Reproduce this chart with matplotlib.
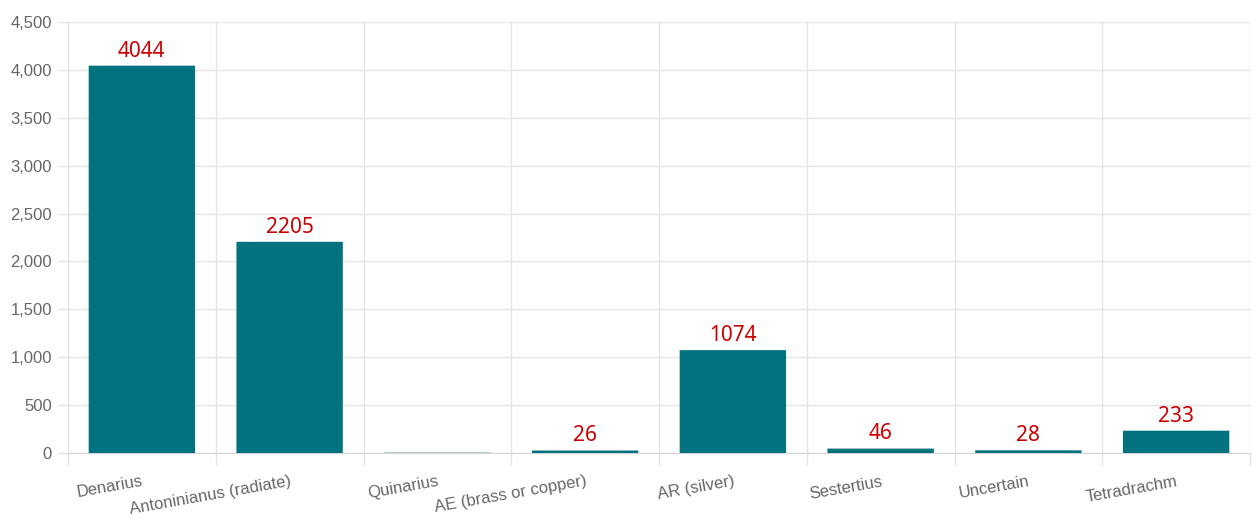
import matplotlib
matplotlib.use("Agg")
import matplotlib.pyplot as plt
from matplotlib.ticker import FuncFormatter, MultipleLocator, FixedLocator
import numpy as np

categories = ["Denarius", "Antoninianus (radiate)", "Quinarius", "AE (brass or copper)",
              "AR (silver)", "Sestertius", "Uncertain", "Tetradrachm"]
values = [4044, 2205, 3, 26, 1074, 46, 28, 233]
value_labels = ["4044", "2205", "", "26", "1074", "46", "28", "233"]

BAR = "#02727f"
GRID = "#e4e4e4"
TXT = "#666666"

fig = plt.figure(figsize=(12.52, 5.19), dpi=100)
ax = fig.add_axes([68/1252, 66/519, (1250-68)/1252, (453-22)/519])

x = np.arange(len(categories))
bars = ax.bar(x, values, width=0.72, color=BAR, zorder=3)
for b in bars:
    b.set_snap(False)

for xi, v, lab in zip(x, values, value_labels):
    if lab:
        ax.annotate(lab, (xi, v), xytext=(0, 3), textcoords="offset points",
                    ha="center", va="bottom", color="#cc0000", fontsize=15,
                    family="Noto Sans", zorder=4)

ax.set_xlim(-0.5, len(categories) - 0.5)
ax.set_ylim(0, 4500)
ax.yaxis.set_major_locator(MultipleLocator(500))
ax.yaxis.set_major_formatter(FuncFormatter(lambda v, p: f"{int(v):,}"))

ax.set_xticks(x)
ax.set_xticklabels(categories, rotation=10, ha="right", rotation_mode="anchor",
                   va="top", family="Liberation Sans", fontsize=12, color=TXT)
ax.xaxis.set_minor_locator(FixedLocator(np.arange(-0.5, len(categories), 1.0)))
ax.tick_params(axis="x", which="major", length=0, pad=15)
ax.tick_params(axis="x", which="minor", length=9, color=GRID, width=1)
ax.tick_params(axis="y", which="major", length=7.5, color=GRID, width=1, pad=4,
               labelsize=12, labelcolor=TXT)
for t in ax.get_yticklabels():
    t.set_family("Liberation Sans")

ax.grid(True, axis="y", which="major", color=GRID, linewidth=1, zorder=0)
ax.grid(True, axis="x", which="minor", color=GRID, linewidth=1, zorder=0)
ax.grid(False, axis="x", which="major")

for s in ["top", "right"]:
    ax.spines[s].set_visible(False)
ax.spines["left"].set_color(GRID)
ax.spines["bottom"].set_color("#d4d4d4")
ax.set_axisbelow(True)

fig.savefig("out.png", dpi=100)
